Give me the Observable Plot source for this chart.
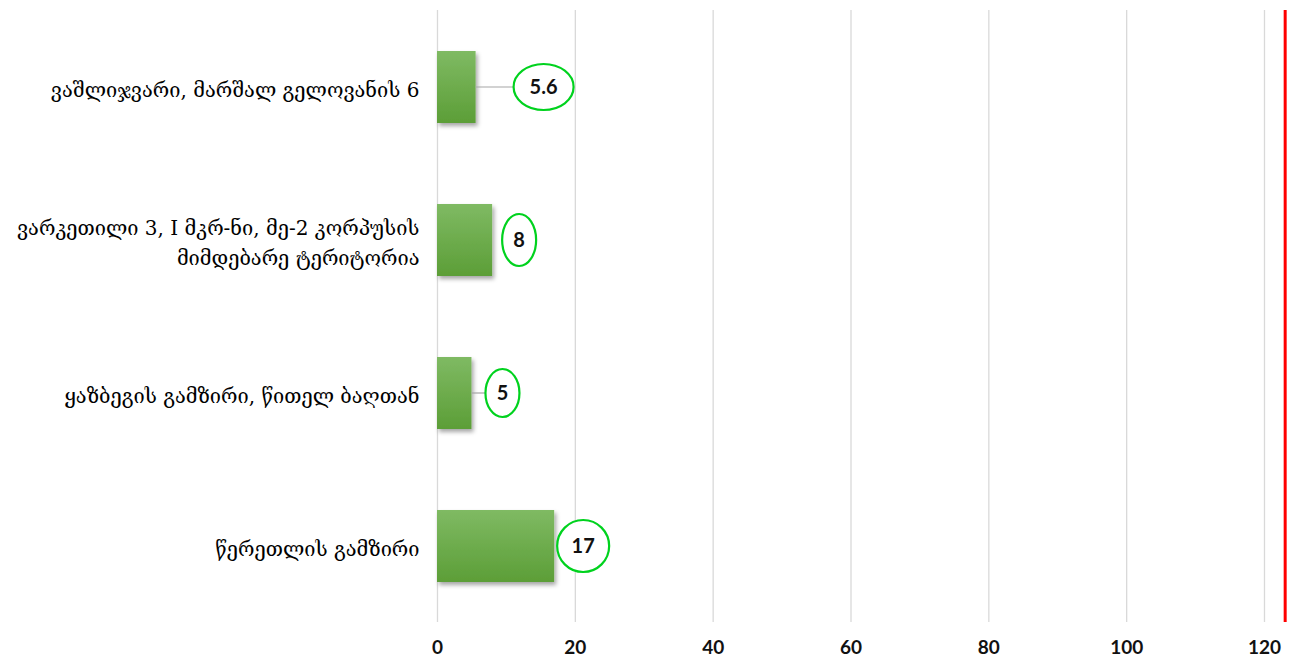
<!DOCTYPE html>
<html>
<head>
<meta charset="utf-8">
<script src="https://cdn.jsdelivr.net/npm/d3@7"></script>
<script src="https://cdn.jsdelivr.net/npm/@observablehq/plot@0.6"></script>
<style>
  html, body { margin: 0; padding: 0; background: #fff; }
  #chart { width: 1294px; height: 667px; }
</style>
</head>
<body>
<div id="chart"></div>
<script>
// ---- data ----
const categories = [
  "ვაშლიჯვარი, მარშალ გელოვანის 6",
  "ვარკეთილი 3, I მკრ-ნი, მე-2 კორპუსის\nმიმდებარე ტერიტორია",
  "ყაზბეგის გამზირი, წითელ ბაღთან",
  "წერეთლის გამზირი"
];
const values = [5.6, 8, 5, 17];
const xTicks = [0, 20, 40, 60, 80, 100, 120];
const limitValue = 123;

const rows = categories.map((c, i) => ({category: c, value: values[i]}));

// label callout styling (pixels)
const callouts = [
  {dx: 68, rx: 30, ry: 23, leader: true},
  {dx: 27, rx: 17, ry: 26, leader: false},
  {dx: 31, rx: 17, ry: 24, leader: true},
  {dx: 29, rx: 26, ry: 26, leader: false}
];

const plot = Plot.plot({
  width: 1294,
  height: 667,
  marginLeft: 437,
  marginRight: 30,
  marginTop: 10,
  marginBottom: 45,
  style: {background: "#fff", overflow: "visible"},
  x: {domain: [0, 120], ticks: xTicks, label: null},
  y: {domain: categories, paddingInner: 0.53, paddingOuter: 0.265, label: null},
  marks: [
    Plot.gridX(xTicks, {stroke: "#d9d9d9", strokeOpacity: 1, strokeWidth: 1.3}),
    Plot.axisX({ticks: xTicks, tickSize: 0, tickPadding: 18, fontSize: 19, fontWeight: "bold", fontFamily: "Lato, sans-serif", fill: "#111", label: null}),
    Plot.axisY({tickSize: 0, tickPadding: 18, fontSize: 20, fontFamily: "'DejaVu Serif', serif", fill: "#000", lineHeight: 1.5, label: null}),
    Plot.barX(rows, {x: "value", y: "category", fill: "url(#barGrad)"}),
    Plot.ruleX([limitValue], {x: d => d, stroke: "#ff0000", strokeWidth: 3, strokeOpacity: 1})
  ]
});

document.getElementById("chart").appendChild(plot);

const svg = d3.select(plot);
const defs = svg.insert("defs", ":first-child");
const grad = defs.append("linearGradient").attr("id", "barGrad").attr("x1", 0).attr("y1", 0).attr("x2", 0).attr("y2", 1);
grad.append("stop").attr("offset", "0%").attr("stop-color", "#7fba63");
grad.append("stop").attr("offset", "100%").attr("stop-color", "#5c9e37");
const filt = defs.append("filter").attr("id", "shadow").attr("x", "-10%").attr("y", "-10%").attr("width", "130%").attr("height", "140%");
filt.append("feDropShadow").attr("dx", 2).attr("dy", 3).attr("stdDeviation", 2).attr("flood-color", "#000").attr("flood-opacity", 0.35);
svg.selectAll("g[fill='url(#barGrad)']").attr("filter", "url(#shadow)");

const xs = plot.scale("x");
const ys = plot.scale("y");
const bw = ys.bandwidth;
const g = svg.append("g");
rows.forEach((d, i) => {
  const c = callouts[i];
  const x0 = xs.apply(d.value);
  const cy = ys.apply(d.category) + bw / 2;
  const cx = x0 + c.dx;
  if (c.leader) {
    g.append("line").attr("x1", x0).attr("x2", cx - c.rx).attr("y1", cy).attr("y2", cy)
      .attr("stroke", "#a6a6a6").attr("stroke-width", 1.2);
  }
  g.append("ellipse").attr("cx", cx).attr("cy", cy).attr("rx", c.rx).attr("ry", c.ry)
    .attr("fill", "#fff").attr("stroke", "#00d21e").attr("stroke-width", 2.2);
  g.append("text").attr("x", cx).attr("y", cy).attr("dy", "0.36em").attr("text-anchor", "middle")
    .attr("font-family", "Lato, sans-serif").attr("font-weight", "bold").attr("font-size", 20).attr("fill", "#111")
    .text(String(d.value));
});
</script>
</body>
</html>
